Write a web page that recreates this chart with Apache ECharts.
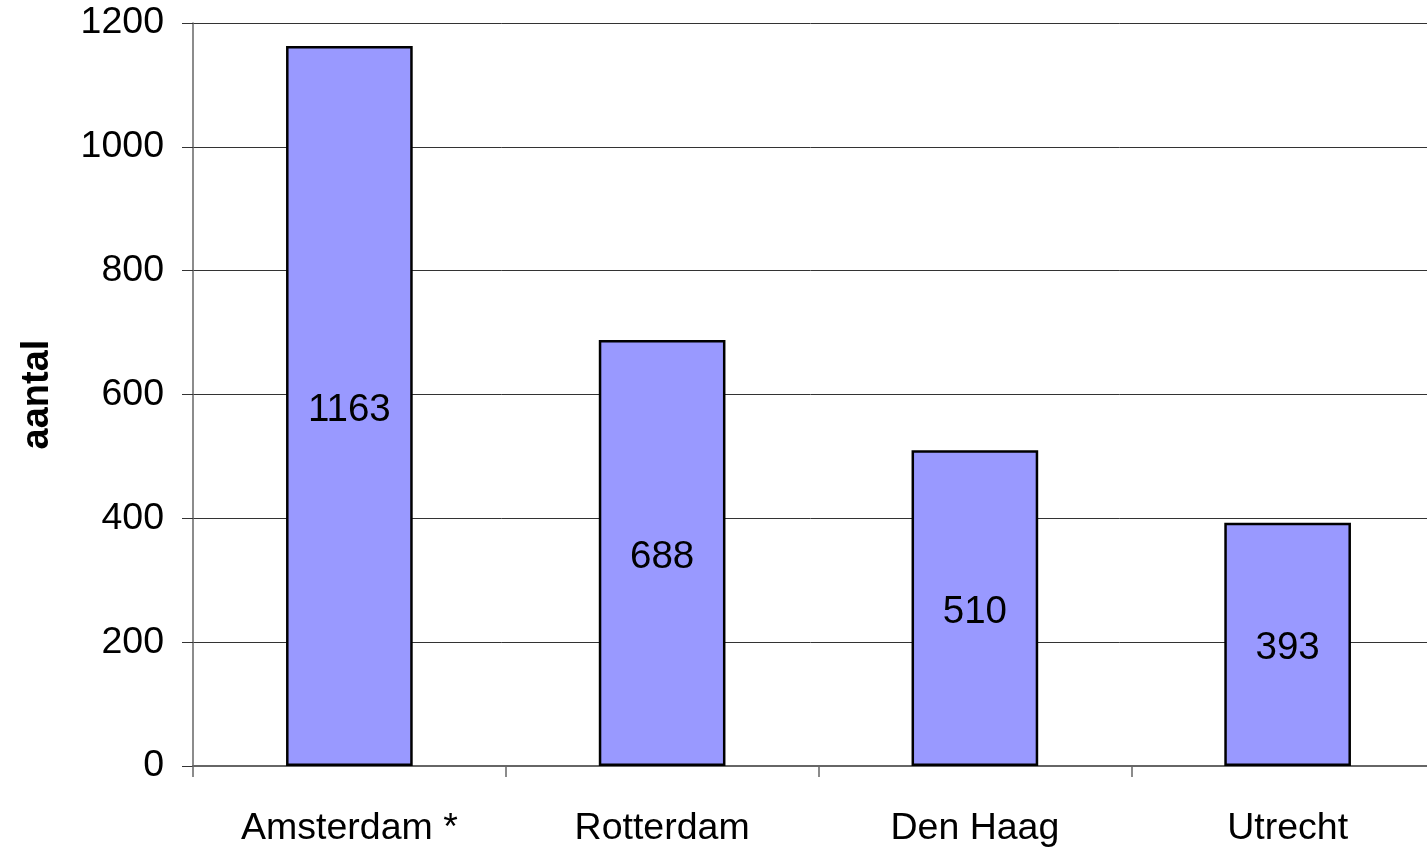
<!DOCTYPE html>
<html>
<head>
<meta charset="utf-8">
<script src="https://cdn.jsdelivr.net/npm/echarts@6/dist/echarts.min.js"></script>
<style>
  html, body { margin: 0; padding: 0; background: #fff; }
  #chart { width: 1427px; height: 847px; }
</style>
</head>
<body>
<div id="chart"></div>
<script>
var steden = ['Amsterdam *', 'Rotterdam', 'Den Haag', 'Utrecht'];
var aantallen = [1163, 688, 510, 393];

var chart = echarts.init(document.getElementById('chart'));
chart.setOption({
  backgroundColor: '#fff',
  animation: false,
  textStyle: {
    fontFamily: 'Liberation Sans, Arial, sans-serif'
  },
  grid: {
    top: 23,
    left: 193,
    right: -17,
    bottom: 81,
    containLabel: false,
    outerBoundsMode: 'none'
  },
  xAxis: {
    type: 'category',
    data: steden,
    axisLine: {
      lineStyle: { color: '#666', width: 2 }
    },
    axisTick: {
      show: true,
      length: 11,
      lineStyle: { color: '#666', width: 1.5 }
    },
    axisLabel: {
      color: '#000',
      fontSize: 37.5,
      margin: 44
    }
  },
  yAxis: {
    type: 'value',
    min: 0,
    max: 1200,
    interval: 200,
    name: 'aantal',
    nameLocation: 'middle',
    nameGap: 136,
    nameRotate: 90,
    nameTextStyle: {
      color: '#000',
      fontSize: 38,
      fontWeight: 'bold'
    },
    axisLine: {
      show: true,
      lineStyle: { color: '#666', width: 1.5 }
    },
    axisTick: {
      show: true,
      length: 11,
      lineStyle: { color: '#333' }
    },
    axisLabel: {
      color: '#000',
      fontSize: 37.5,
      margin: 29,
      formatter: function (v) { return String(v); }
    },
    splitLine: {
      lineStyle: { color: '#333', width: 1 }
    }
  },
  series: [{
    type: 'bar',
    data: aantallen,
    barWidth: '40.5%',
    itemStyle: {
      color: '#9999ff',
      borderColor: '#000',
      borderWidth: 2.5
    },
    label: {
      show: true,
      position: 'inside',
      offset: [0, 4],
      color: '#000',
      fontSize: 38.5
    }
  }]
});
</script>
</body>
</html>
